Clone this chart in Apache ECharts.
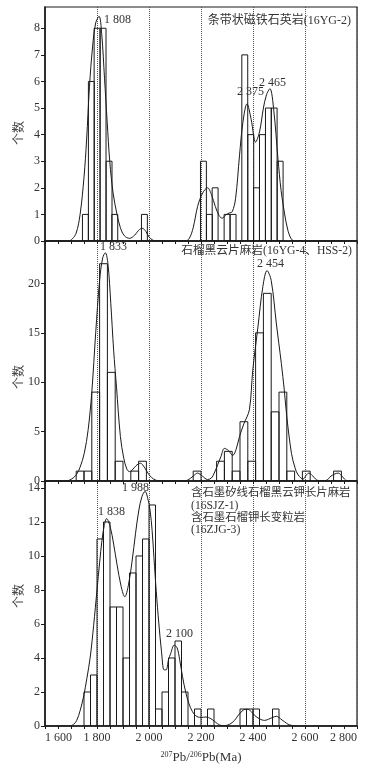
<!DOCTYPE html>
<html>
<head>
<meta charset="utf-8">
<script src="https://cdn.jsdelivr.net/npm/echarts@6/dist/echarts.min.js"></script>
<style>
  html, body { margin: 0; padding: 0; background: #fff; }
  #main { width: 377px; height: 768px; }
</style>
</head>
<body>
<div id="main"></div>
<script>
// 年龄轴刻度
const xTicks = [1600, 1800, 2000, 2200, 2400, 2600, 2800]
const xTickLabels = ['1 600', '1 800', '2 000', '2 200', '2 400', '2 600', '2 800']

// 图一 条带状磁铁石英岩(16YG-2)
const p1BinWidth = 22.7
const p1BinStart = [1744, 1767, 1789, 1812, 1835, 1857, 1971, 2198, 2221, 2243, 2289, 2312, 2357, 2380, 2402, 2425, 2448, 2470, 2493]
const p1BinCount = [1, 6, 8, 8, 3, 1, 1, 3, 1, 2, 1, 1, 7, 4, 2, 4, 5, 5, 3]
const p1CurveAge = [1600, 1690, 1705, 1720, 1735, 1750, 1760, 1771, 1783, 1795, 1808, 1818, 1829, 1839, 1849, 1862, 1877, 1890, 1905, 1925,
  1945, 1960, 1974, 1988, 2000, 2015, 2030, 2140, 2155, 2170, 2187, 2206, 2225, 2240, 2255, 2270, 2282, 2295, 2308, 2320,
  2333, 2348, 2361, 2377, 2393, 2410, 2425, 2440, 2452, 2465, 2480, 2496, 2508, 2521, 2533, 2546, 2560, 2800]
const p1CurveVal = [0, 0, 0.08, 0.3, 1.0, 2.4, 3.8, 5.8, 7.3, 8.2, 8.45, 7.8, 6.1, 4.5, 3.0, 1.8, 1.0, 0.5, 0.2, 0.1,
  0.22, 0.4, 0.48, 0.36, 0.15, 0.03, 0, 0, 0.1, 0.5, 1.3, 1.8, 2.0, 1.75, 1.3, 0.95, 0.86, 0.98, 1.05, 1.1,
  1.6, 3.2, 4.45, 5.16, 4.57, 3.72, 4.1, 5.0, 5.5, 5.73, 4.9, 3.1, 1.9, 1.05, 0.45, 0.1, 0, 0]

// 图二 石榴黑云片麻岩(16YG-4、HSS-2)
const p2BinWidth = 30
const p2BinStart = [1720, 1750, 1780, 1810, 1840, 1870, 1930, 1960, 2170, 2260, 2290, 2320, 2350, 2380, 2410, 2440, 2470, 2500, 2530, 2590, 2710]
const p2BinCount = [1, 1, 9, 22, 11, 2, 1, 2, 1, 2, 3, 1, 6, 2, 15, 19, 7, 9, 1, 1, 1]
const p2CurveAge = [1600, 1680, 1695, 1710, 1722, 1735, 1751, 1766, 1780, 1795, 1810, 1822, 1832, 1842, 1853, 1864, 1875, 1890, 1903, 1915,
  1925, 1935, 1950, 1967, 1982, 1996, 2010, 2025, 2040, 2130, 2150, 2170, 2187, 2205, 2225, 2240, 2251, 2265, 2277, 2290,
  2305, 2322, 2335, 2348, 2365, 2386, 2399, 2419, 2438, 2454, 2470, 2490, 2509, 2520, 2530, 2548, 2562, 2574, 2593, 2605,
  2615, 2630, 2651, 2680, 2700, 2728, 2745, 2760, 2800]
const p2CurveVal = [0, 0, 0.1, 0.35, 0.7, 1.4, 2.8, 5.2, 9.0, 15, 20.3, 22.6, 23.1, 22.0, 18, 13.25, 9.5, 4.5, 2.3, 1.2,
  0.95, 1.1, 1.55, 1.8, 1.4, 0.8, 0.35, 0.1, 0, 0, 0.1, 0.5, 0.8, 0.5, 0.15, 0.3, 0.8, 1.7, 2.5, 3.3,
  3.1, 2.6, 3.2, 4.5, 5.8, 7.2, 11.2, 15.6, 19.7, 21.3, 20.3, 15.9, 11.9, 9.3, 6.5, 2.8, 1.3, 0.6, 0.2, 0.6,
  0.8, 0.5, 0.05, 0.05, 0.5, 0.8, 0.4, 0.05, 0]

// 图三 含石墨矽线石榴黑云钾长片麻岩(16SJZ-1)、含石墨石榴钾长变粒岩(16ZJG-3)
const p3BinWidth = 25
const p3BinStart = [1750, 1775, 1800, 1825, 1850, 1875, 1900, 1925, 1950, 1975, 2000, 2025, 2050, 2075, 2100, 2125, 2175, 2225, 2350, 2375, 2400, 2475]
const p3BinCount = [2, 3, 11, 12, 7, 7, 4, 9, 10, 11, 13, 1, 2, 4, 5, 2, 1, 1, 1, 1, 1, 1]
const p3CurveAge = [1600, 1695, 1710, 1722, 1735, 1748, 1761, 1774, 1787, 1800, 1810, 1819, 1828, 1837, 1851, 1864, 1877, 1893, 1907, 1921,
  1935, 1948, 1961, 1973, 1985, 1995, 2004, 2012, 2019, 2028, 2038, 2048, 2058, 2066, 2075, 2083, 2097, 2108, 2118, 2129,
  2141, 2154, 2167, 2180, 2200, 2219, 2238, 2250, 2264, 2278, 2290, 2310, 2329, 2341, 2354, 2370, 2380, 2393, 2406, 2425,
  2445, 2460, 2475, 2490, 2500, 2512, 2522, 2535, 2548, 2560, 2800]
const p3CurveVal = [0, 0, 0.1, 0.33, 0.9, 1.7, 2.8, 4.06, 5.9, 8.0, 9.6, 10.9, 11.8, 12.2, 11.7, 10.7, 9.5, 8.2, 7.6, 8.3,
  9.7, 11.3, 12.7, 13.5, 13.8, 13.4, 12.7, 11.5, 9.9, 7.9, 6.0, 4.4, 3.3, 3.3, 3.9, 4.25, 4.75, 4.6, 3.9, 2.9,
  2.0, 1.3, 0.85, 0.6, 0.5, 0.53, 0.43, 0.3, 0.13, 0.03, 0.02, 0.1, 0.33, 0.58, 0.82, 0.98, 0.98, 0.85, 0.63, 0.42,
  0.33, 0.4, 0.5, 0.57, 0.5, 0.35, 0.24, 0.1, 0.04, 0, 0]

// 纵轴范围
const yMax = [8.8, 24.3, 14.41]
const yInterval = [1, 5, 2]

const FONT = '"Liberation Serif", "Noto Sans CJK SC", serif'
const INK = '#1a1a1a'

const panels = [
  { w: p1BinWidth, start: p1BinStart, count: p1BinCount, age: p1CurveAge, val: p1CurveVal },
  { w: p2BinWidth, start: p2BinStart, count: p2BinCount, age: p2CurveAge, val: p2CurveVal },
  { w: p3BinWidth, start: p3BinStart, count: p3BinCount, age: p3CurveAge, val: p3CurveVal }
]

const grids = [
  { left: 45, right: 20, top: 7, height: 234 },
  { left: 45, right: 20, top: 241, height: 240 },
  { left: 45, right: 20, top: 481, height: 245 }
].map(g => Object.assign(g, { show: true, borderColor: INK, borderWidth: 1.2, backgroundColor: 'transparent', outerBoundsMode: 'none' }))

const xAxes = panels.map((p, i) => ({
  type: 'value',
  gridIndex: i,
  min: 1600,
  max: 2800,
  interval: 200,
  axisLine: { show: true, onZero: false, lineStyle: { color: INK, width: 1.5 } },
  axisTick: { show: true, length: 3, lineStyle: { color: INK } },
  minorTick: { show: true, splitNumber: 4, length: 3, lineStyle: { color: INK } },
  splitLine: { show: true, lineStyle: { type: 'dotted', color: '#555', width: 1 } },
  axisLabel: {
    show: i === 2,
    fontFamily: FONT,
    fontSize: 12,
    color: '#333',
    margin: 6,
    alignMinLabel: 'left',
    alignMaxLabel: 'right',
    formatter: v => xTickLabels[xTicks.indexOf(v)] || ''
  },
  name: i === 2 ? '{s|207}Pb/{s|206}Pb(Ma)' : '',
  nameLocation: 'middle',
  nameGap: 25,
  nameTextStyle: {
    fontFamily: FONT,
    fontSize: 13,
    color: '#333',
    rich: {
      s: { fontFamily: FONT, fontSize: 8, color: '#333', verticalAlign: 'top', lineHeight: 8, padding: [0, 0, 6, 0] }
    }
  }
}))

const yAxes = panels.map((p, i) => ({
  type: 'value',
  gridIndex: i,
  min: 0,
  max: yMax[i],
  interval: yInterval[i],
  axisLine: { show: true, lineStyle: { color: INK, width: 1.5 } },
  axisTick: { show: true, length: 4, lineStyle: { color: INK } },
  splitLine: { show: false },
  axisLabel: { fontFamily: FONT, fontSize: 12, color: '#333', margin: 5, showMaxLabel: false }
}))

const series = []
panels.forEach((p, i) => {
  series.push({
    type: 'custom',
    xAxisIndex: i,
    yAxisIndex: i,
    clip: true,
    z: 2,
    encode: { x: [0, 1], y: 2 },
    data: p.start.map((s, k) => [s, s + p.w, p.count[k]]),
    renderItem: (params, api) => {
      const a = api.coord([api.value(0), 0])
      const b = api.coord([api.value(1), api.value(2)])
      return {
        type: 'rect',
        shape: { x: a[0], y: b[1], width: b[0] - a[0], height: a[1] - b[1] },
        style: { fill: 'none', stroke: INK, lineWidth: 1 }
      }
    }
  })
  series.push({
    type: 'line',
    xAxisIndex: i,
    yAxisIndex: i,
    z: 3,
    smooth: 0.35,
    symbol: 'none',
    silent: true,
    clip: true,
    lineStyle: { color: INK, width: 1 },
    data: p.age.map((a, k) => [a, p.val[k]])
  })
})

// 标注文字
const note = (text, x, y, align, size) => ({
  type: 'text',
  x: x,
  y: y,
  z: 10,
  style: { text: text, fill: '#333', font: (size || 12) + 'px ' + FONT, textAlign: align || 'left', textVerticalAlign: 'middle' }
})
// 纵轴名称 个数
const yName = y => ({
  type: 'text',
  x: 18,
  y: y,
  rotation: Math.PI / 2,
  z: 10,
  style: { text: '个数', fill: '#444', font: '12px "Noto Sans CJK SC", sans-serif', textAlign: 'center', textVerticalAlign: 'middle' }
})

const graphic = [
  yName(133),
  yName(377),
  yName(596),
  note('1 808', 104, 20),
  note('2 375', 237, 92),
  note('2 465', 259, 83),
  note('条带状磁铁石英岩(16YG-2)', 351, 21, 'right'),
  note('1 833', 100, 247),
  note('石榴黑云片麻岩(16YG-4、HSS-2)', 352, 251, 'right', 11.7),
  note('2 454', 257, 264),
  note('1 988', 122, 488),
  note('1 838', 98, 512),
  note('2 100', 166, 634),
  note('含石墨矽线石榴黑云钾长片麻岩', 191, 493, 'left', 11.4),
  note('(16SJZ-1)', 191, 505.5, 'left', 11.7),
  note('含石墨石榴钾长变粒岩', 191, 517.7, 'left', 11.4),
  note('(16ZJG-3)', 191, 530, 'left', 11.7)
]

const myChart = echarts.init(document.getElementById('main'), null, { renderer: 'canvas' })
myChart.setOption({
  backgroundColor: '#fff',
  animation: false,
  grid: grids,
  xAxis: xAxes,
  yAxis: yAxes,
  series: series,
  graphic: graphic
})
</script>
</body>
</html>
